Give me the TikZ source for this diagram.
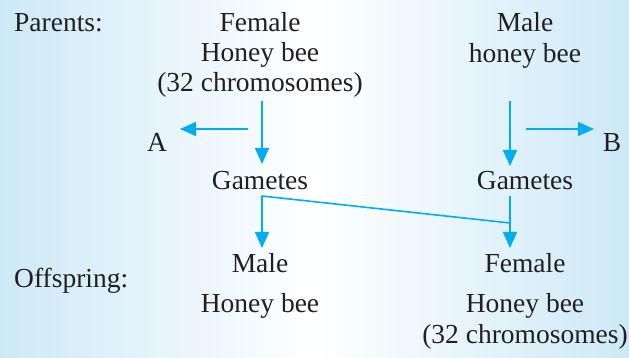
\documentclass[tikz,border=0pt]{standalone}
\usepackage{fontspec}
\setmainfont{Liberation Serif}
\usetikzlibrary{arrows.meta}
\definecolor{arrowblue}{HTML}{00AEEF}
\definecolor{txt}{HTML}{231F20}
\definecolor{bgblue}{HTML}{CDE9F7}
\tikzset{
  lbl/.style={anchor=base, inner sep=0pt, text=txt, font=\fontsize{27.5}{30}\selectfont},
  lbll/.style={lbl, anchor=base west},
  conn/.style={draw=arrowblue, line width=1.6pt},
  arr/.style={conn, -{Triangle[length=16pt,width=14pt]}}
}
\begin{document}
\begin{tikzpicture}[x=1pt,y=-1pt]
\shade[left color=bgblue, right color=bgblue, middle color=white] (0,0) rectangle (629,358);
\useasboundingbox (0,0) rectangle (629,358);
% labels
\node[lbll] (par) at (14,32) {Parents:};
\node[lbl] (f1) at (260,32) {Female};
\node[lbl] (f2) at (260,62) {Honey bee};
\node[lbl] (f3) at (260,92) {(32 chromosomes)};
\node[lbl] (m1) at (525,32) {Male};
\node[lbl] (m2) at (525,63) {honey bee};
\node[lbl] (A) at (157,152) {A};
\node[lbl] (B) at (612,152) {B};
\node[lbl] (gl) at (260,190) {Gametes};
\node[lbl] (gr) at (525,190) {Gametes};
\node[lbll] (off) at (14,287) {Offspring:};
\node[lbl] (om1) at (260,272) {Male};
\node[lbl] (om2) at (260,312) {Honey bee};
\node[lbl] (of1) at (525,272) {Female};
\node[lbl] (of2) at (525,312) {Honey bee};
\node[lbl] (of3) at (525,343) {(32 chromosomes)};
% connector points
\coordinate (ls) at (262,101);
\coordinate (le) at (262,164);
\coordinate (as) at (248,129);
\coordinate (ae) at (180,129);
\coordinate (rs) at (510,101);
\coordinate (re) at (510,166);
\coordinate (bs) at (526,129);
\coordinate (be) at (594,129);
\coordinate (gls) at (262,196);
\coordinate (gle) at (262,248);
\coordinate (grs) at (510,196);
\coordinate (grm) at (510,223);
\coordinate (gre) at (510,248);
% connectors
\draw[arr] (ls) -- (le);
\draw[arr] (as) -- (ae);
\draw[arr] (rs) -- (re);
\draw[arr] (bs) -- (be);
\draw[arr] (gls) -- (gle);
\draw[conn] (gls) -- (grm);
\draw[arr] (grs) -- (gre);
\end{tikzpicture}
\end{document}
